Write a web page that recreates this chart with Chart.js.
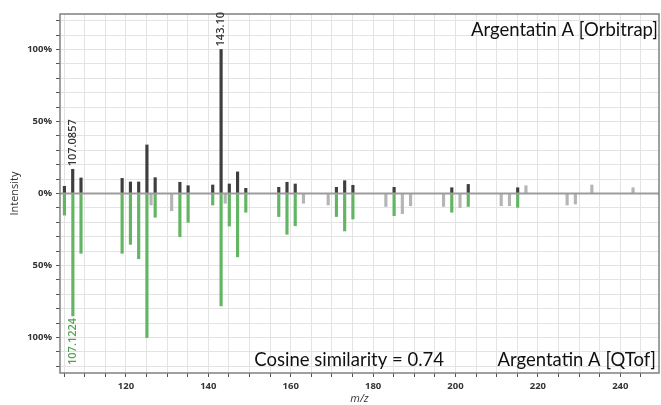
<!DOCTYPE html>
<html>
<head>
<meta charset="utf-8">
<script src="https://cdn.jsdelivr.net/npm/chart.js@4.4.1/dist/chart.umd.min.js"></script>
<style>
  html, body { margin: 0; padding: 0; background: #fff; }
  #wrap { width: 661px; height: 405px; }
</style>
</head>
<body>
<div id="wrap"><canvas id="myChart"></canvas></div>
<script>
// matched peaks (Orbitrap on top, QTof mirrored below)
const orbitrapMz = [105.07, 107.0857, 109.1, 119.08, 121.1, 123.1, 125.1, 127.1, 133.1, 135.1, 141.07, 143.10, 145.1, 147.1, 149.1, 157.1, 159.1, 161.1, 171.1, 173.1, 175.1, 185.1, 199.1, 203.1, 215.1];
const orbitrapInt = [5, 16.8, 10.8, 10.5, 8, 8, 33.7, 11, 7.8, 5.4, 5.9, 100, 6.6, 15, 3.6, 4.3, 7.8, 6.6, 4.3, 8.9, 5.7, 4.3, 4, 6.3, 4];
const qtofMz = [105.07, 107.1224, 109.1, 119.08, 121.1, 123.1, 125.1, 127.1, 133.1, 135.1, 141.07, 143.10, 145.1, 147.1, 149.1, 157.1, 159.1, 161.1, 171.1, 173.1, 175.1, 185.1, 199.1, 203.1, 215.1];
const qtofInt = [15, 85, 41.5, 41.5, 35.3, 45.3, 100, 16.5, 30, 20, 8, 78, 22.6, 44, 13, 16, 28.3, 22.4, 16, 26, 17.7, 15.4, 13, 9, 9.6];

// unmatched peaks (grey)
const orbitrapOtherMz = [217.1, 233.1, 243.1];
const orbitrapOtherInt = [5.4, 5.9, 4];
const qtofOtherMz = [126.1, 131.1, 144.1, 163.1, 169.1, 183.1, 187.1, 189.1, 197.1, 201.1, 211.1, 213.1, 227.1, 229.1];
const qtofOtherInt = [8, 12, 6.8, 6.8, 8, 9, 14, 8.5, 9, 9.8, 8.5, 8.5, 8, 7.3];

// labelled peaks
const topLabels = ['107.0857', '143.10'];
const bottomLabels = ['107.1224'];

const toPoints = (xs, ys, sign) => xs.map((v, i) => ({x: v, y: sign * ys[i]}));

const overlay = {
    id: 'overlay',
    afterDatasetsDraw(chart) {
        const {ctx, chartArea: a, scales: {x, y}} = chart;
        ctx.save();
        // zero line
        const y0 = y.getPixelForValue(0);
        ctx.strokeStyle = '#9c9c9c';
        ctx.lineWidth = 2;
        ctx.beginPath();
        ctx.moveTo(a.left, y0);
        ctx.lineTo(a.right, y0);
        ctx.stroke();
        // frame
        ctx.strokeStyle = '#808080';
        ctx.lineWidth = 1.5;
        ctx.strokeRect(a.left, a.top, a.right - a.left, a.bottom - a.top);

        // peak labels
        ctx.font = '600 11px "Open Sans"';
        ctx.textBaseline = 'middle';
        topLabels.forEach(t => {
            const i = orbitrapMz.findIndex(m => m.toFixed(t.split('.')[1].length) === t);
            const px = x.getPixelForValue(orbitrapMz[i]);
            const py = y.getPixelForValue(orbitrapInt[i]);
            ctx.save();
            ctx.translate(px, py - 3);
            ctx.rotate(-Math.PI / 2);
            ctx.fillStyle = '#333';
            ctx.textAlign = 'left';
            ctx.fillText(t, 0, 0);
            ctx.restore();
        });
        bottomLabels.forEach(t => {
            const i = qtofMz.findIndex(m => m.toFixed(4) === t);
            const px = x.getPixelForValue(qtofMz[i]);
            const py = y.getPixelForValue(-qtofInt[i]);
            ctx.save();
            ctx.translate(px, py + 2);
            ctx.rotate(-Math.PI / 2);
            ctx.fillStyle = '#4fa34f';
            ctx.textAlign = 'right';
            ctx.fillText(t, 0, 0);
            ctx.restore();
        });

        // captions
        ctx.font = '18.5px Lato';
        ctx.fillStyle = '#111';
        ctx.textBaseline = 'alphabetic';
        ctx.textAlign = 'right';
        ctx.fillText('Argentatin A [Orbitrap]', a.right - 1, a.top + 22);
        ctx.fillText('Argentatin A [QTof]', a.right - 3, a.bottom - 7);
        ctx.fillText('Cosine similarity = 0.74', 444, a.bottom - 7);
        ctx.restore();
    }
};

const ctx = document.getElementById('myChart').getContext('2d');
const myChart = new Chart(ctx, {
    type: 'bar',
    data: {
        datasets: [{
            data: toPoints(orbitrapOtherMz, orbitrapOtherInt, 1),
            backgroundColor: '#b5b5b5'
        }, {
            data: toPoints(qtofOtherMz, qtofOtherInt, -1),
            backgroundColor: '#b5b5b5'
        }, {
            data: toPoints(orbitrapMz, orbitrapInt, 1),
            backgroundColor: '#3e3e3e'
        }, {
            data: toPoints(qtofMz, qtofInt, -1),
            backgroundColor: '#62b562'
        }]
    },
    options: {
        responsive: true,
        maintainAspectRatio: false,
        animation: false,
        grouped: false,
        datasets: { bar: { barThickness: 2.5, grouped: false } },
        layout: { padding: { left: 0, top: 14, right: 2, bottom: 0 } },
        plugins: {
            legend: { display: false },
            tooltip: { enabled: false }
        },
        scales: {
            x: {
                type: 'linear',
                offset: false,
                min: 104,
                max: 249.4,
                afterFit: s => { s.height = 32; },
                border: { display: false },
                grid: { offset: false, color: '#e3e3e3', tickColor: '#555', tickLength: 4 },
                ticks: {
                    stepSize: 5,
                    includeBounds: false,
                    autoSkip: false,
                    maxRotation: 0,
                    padding: 4,
                    color: '#333',
                    font: { family: '"Open Sans"', size: 9.5, weight: 'bold' },
                    callback: v => v % 20 === 0 ? v : ''
                },
                title: {
                    display: true,
                    text: 'm/z',
                    color: '#333',
                    padding: 0,
                    font: { family: '"Open Sans"', size: 11, style: 'italic' }
                }
            },
            y: {
                min: -124.6,
                max: 124.6,
                afterFit: s => { s.width = 60; },
                border: { display: false },
                grid: { color: '#e3e3e3', tickColor: '#555', tickLength: 4 },
                ticks: {
                    stepSize: 10,
                    includeBounds: false,
                    autoSkip: false,
                    padding: 4,
                    color: '#333',
                    font: { family: '"Open Sans"', size: 9.5, weight: 'bold' },
                    callback: v => Math.abs(v) % 50 === 0 ? Math.abs(v) + '%' : ''
                },
                title: {
                    display: true,
                    text: 'Intensity',
                    color: '#333',
                    padding: { top: 8, bottom: 0 },
                    font: { family: '"Open Sans"', size: 11 }
                }
            }
        }
    },
    plugins: [overlay]
});
</script>
</body>
</html>
